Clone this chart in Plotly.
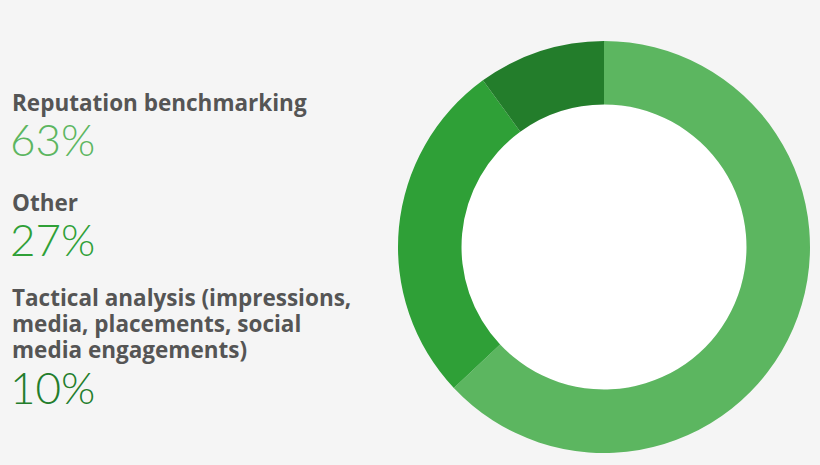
import plotly.graph_objects as go

# Datos
categorias = ["Reputation benchmarking", "Other",
              "Tactical analysis (impressions,<br>media, placements, social<br>media engagements)"]
valores = [63, 27, 10]
colores = ["#5cb660", "#2fa037", "#237d2b"]

W, H = 820, 465
cx, cy = 604, 247      # centro de la dona (px)
R, r = 206, 142.5      # radio exterior / interior

fig = go.Figure(go.Pie(
    values=valores,
    labels=[c.replace("<br>", " ") for c in categorias],
    marker=dict(colors=colores, line=dict(width=0)),
    hole=r / R,
    sort=False,
    direction="clockwise",
    rotation=0,
    textinfo="none",
    hoverinfo="label+percent",
    showlegend=False,
    domain=dict(x=[(cx - R) / W, (cx + R) / W],
                y=[(H - cy - R) / H, (H - cy + R) / H]),
))

# Hueco blanco
fig.add_shape(type="circle", xref="paper", yref="paper", layer="below",
              x0=(cx - r) / W, x1=(cx + r) / W,
              y0=(H - cy - r) / H, y1=(H - cy + r) / H,
              fillcolor="white", line=dict(width=0))

# Etiquetas (una anotación por renglón) y porcentajes
pos_lab = [102.5, 203, 297]
paso = 26
pos_pct = [139, 239, 387]
for cat, val, col, yl, yp in zip(categorias, valores, colores, pos_lab, pos_pct):
    for i, linea in enumerate(cat.split("<br>")):
        fig.add_annotation(text=linea, x=10 / W, y=1 - (yl + i * paso) / H,
                           xref="paper", yref="paper",
                           xanchor="left", yanchor="middle", align="left", showarrow=False,
                           font=dict(family="Open Sans", size=22.5, color="#555555", weight="bold"))
    fig.add_annotation(text=f"{val}%", x=8 / W, y=1 - yp / H, xref="paper", yref="paper",
                       xanchor="left", yanchor="middle", align="left", showarrow=False,
                       font=dict(family="Lato", size=44, color=col, weight=300))

fig.update_layout(width=W, height=H, margin=dict(l=0, r=0, t=0, b=0),
                  paper_bgcolor="#f5f5f5", plot_bgcolor="#f5f5f5")

fig.write_html("out.html", config={"displayModeBar": False},
               post_script="document.body.style.margin='0';")
